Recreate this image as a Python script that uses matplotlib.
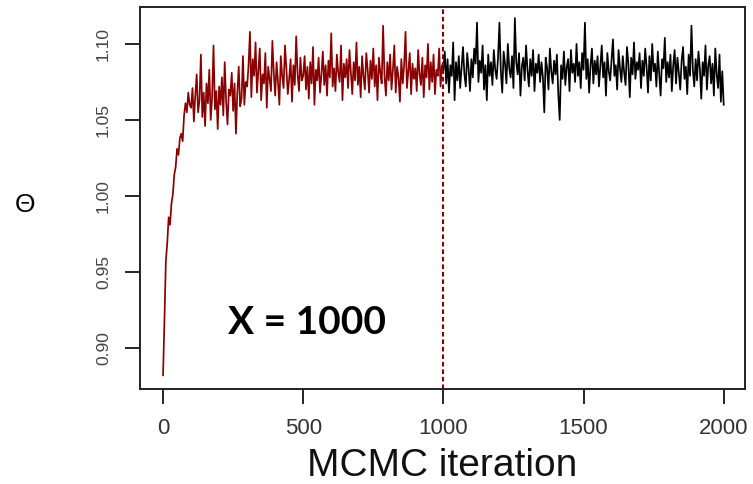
#!/usr/bin/env python3

## MCMC trace plot: burn-in (red) then sampling (black)

import numpy as np
from matplotlib import pyplot as plt

step = 5  # values read every 5 iterations

# burn-in, iterations 0..995 (theta in thousandths)
burn_0 = [882, 918, 957, 969, 986, 981, 995, 1001, 1014, 1019,
          1031, 1027, 1038, 1041, 1036, 1053, 1061, 1055, 1068, 1060]
burn_100 = [1058, 1071, 1049, 1066, 1080, 1055, 1063, 1093, 1052, 1068,
            1046, 1074, 1061, 1083, 1050, 1065, 1099, 1057, 1069, 1044,
            1072, 1060, 1078, 1053, 1088, 1062, 1047, 1070, 1066, 1081,
            1056, 1074, 1041, 1068, 1085, 1059, 1064, 1092, 1060, 1075]
burn_300 = [1072, 1086, 1108, 1065, 1090, 1079, 1101, 1068, 1083, 1097,
            1063, 1080, 1074, 1094, 1058, 1085, 1077, 1069, 1102, 1081,
            1066, 1088, 1075, 1060, 1092, 1079, 1071, 1099, 1084, 1067,
            1077, 1090, 1062, 1086, 1073, 1105, 1080, 1069, 1091, 1076]
burn_500 = [1079, 1092, 1070, 1085, 1064, 1088, 1074, 1098, 1060, 1083,
            1076, 1091, 1068, 1080, 1095, 1073, 1086, 1066, 1089, 1078,
            1107, 1072, 1084, 1069, 1093, 1081, 1075, 1099, 1063, 1087,
            1078, 1090, 1071, 1096, 1082, 1067, 1088, 1076, 1101, 1073,
            1085, 1065, 1092, 1079, 1070, 1094, 1083, 1068, 1089, 1077,
            1097, 1072, 1086, 1063, 1091, 1081, 1074, 1112, 1079, 1066,
            1088, 1076, 1093, 1070, 1083, 1099, 1068, 1085, 1078, 1062,
            1090, 1074, 1086, 1108, 1071, 1082, 1094, 1067, 1087, 1077,
            1084, 1069, 1096, 1080, 1073, 1091, 1065, 1086, 1078, 1100,
            1070, 1088, 1075, 1093, 1067, 1083, 1079, 1097, 1072, 1086]

# sampling, iterations 1000..2000
samp = [1083, 1095, 1074, 1090, 1068, 1086, 1079, 1101, 1063, 1088,
        1076, 1092, 1071, 1085, 1098, 1080, 1072, 1094, 1084, 1069,
        1090, 1078, 1097, 1087, 1114, 1075, 1089, 1081, 1099, 1070,
        1086, 1063, 1093, 1079, 1088, 1073, 1096, 1083, 1077, 1091,
        1114, 1082, 1068, 1095, 1087, 1074, 1100, 1084, 1078, 1092,
        1071, 1117, 1088, 1080, 1094, 1066, 1085, 1091, 1076, 1099,
        1083, 1072, 1090, 1079, 1096, 1069, 1087, 1081, 1093, 1075,
        1088, 1078, 1055, 1091, 1084, 1070, 1097, 1082, 1074, 1089,
        1080, 1093, 1067, 1050, 1086, 1077, 1095, 1073, 1085, 1090,
        1069, 1096, 1081, 1087, 1075, 1100, 1079, 1088, 1071, 1094,
        1083, 1114, 1077, 1090, 1068, 1086, 1097, 1074, 1089, 1080,
        1092, 1072, 1085, 1099, 1078, 1088, 1066, 1094, 1082, 1076,
        1090, 1103, 1079, 1086, 1070, 1096, 1084, 1075, 1092, 1081,
        1073, 1098, 1087, 1065, 1091, 1080, 1101, 1077, 1088, 1083,
        1094, 1071, 1089, 1079, 1097, 1085, 1068, 1092, 1076, 1100,
        1082, 1087, 1072, 1095, 1080, 1066, 1090, 1084, 1104, 1075,
        1088, 1078, 1093, 1069, 1086, 1096, 1074, 1091, 1081, 1070,
        1089, 1098, 1077, 1085, 1067, 1093, 1079, 1112, 1083, 1072,
        1090, 1076, 1095, 1084, 1064, 1088, 1079, 1099, 1070, 1086,
        1092, 1074, 1087, 1066, 1097, 1080, 1071, 1093, 1062, 1082,
        1060]

burn_end = 1000
xticks = [0, 500, 1000, 1500, 2000]
yticks = [0.90, 0.95, 1.00, 1.05, 1.10]

burn = np.array(burn_0 + burn_100 + burn_300 + burn_500 + samp[:1]) / 1000.0
theta = np.array(samp) / 1000.0
it_burn = np.arange(len(burn)) * step
it_samp = burn_end + np.arange(len(theta)) * step

plt.rcParams['font.family'] = ['Liberation Sans', 'DejaVu Sans']

fig = plt.figure(figsize=(7.53, 4.84), dpi=100)
ax = fig.add_axes([0.186, 0.1963, 0.803, 0.7892])

ax.plot(it_burn, burn, color='#8b0000', lw=1.25)
ax.plot(it_samp, theta, color='black', lw=1.25)
ax.axvline(burn_end, color='#8b0000', lw=1.5, ls=(0, (2.2, 1.4)))

ax.set_xlim(-82, 2075)
ax.set_ylim(0.873, 1.1243)
ax.set_xticks(xticks)
ax.set_xticklabels([str(t) for t in xticks], fontsize=16, color='#333333')
ax.set_yticks(yticks)
ax.set_yticklabels(['%.2f' % t for t in yticks], fontsize=12.5, rotation=90,
                   va='center', color='#444444')
ax.tick_params(axis='x', direction='out', length=11, width=1.2, pad=10)
ax.tick_params(axis='y', direction='out', length=11, width=1.2, pad=10)
for s in ax.spines.values():
    s.set_linewidth(1.4)
    s.set_color('#222222')

ax.text(230, 0.9165, 'X = 1000', fontsize=28, fontweight='bold',
        family='Lato', va='center', ha='left')

fig.text(0.033, 0.576, '\u0398', fontsize=19, ha='center', va='center')
fig.text(0.587, 0.038, 'MCMC iteration', fontsize=28, ha='center',
         va='center', color='#111111')

fig.savefig('out.png', dpi=100)
